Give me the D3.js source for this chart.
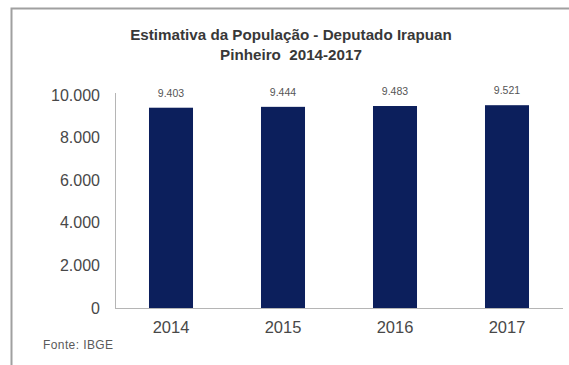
<!DOCTYPE html>
<html>
<head>
<meta charset="utf-8">
<script src="https://cdn.jsdelivr.net/npm/d3@7"></script>
<style>
  html, body { margin: 0; padding: 0; background: #fff; }
  svg { display: block; font-family: "Liberation Sans", Arial, sans-serif; }
</style>
</head>
<body>
<svg id="chart" width="569" height="365"></svg>
<script>
// Estimated population by year
const years = ["2014", "2015", "2016", "2017"];
const population = [9403, 9444, 9483, 9521];
const yTicks = [0, 2000, 4000, 6000, 8000, 10000];
const titleLines = ["Estimativa da População - Deputado Irapuan", "Pinheiro  2014-2017"];
const sourceNote = "Fonte: IBGE";

const svg = d3.select("#chart");
const W = 569, H = 365;
const plot = { left: 115, right: 563, top: 95, bottom: 308 };

const fmt = d3.formatLocale({ decimal: ",", thousands: ".", grouping: [3], currency: ["R$", ""] }).format(",d");

// Frame
svg.append("path")
  .attr("d", `M11.5,${H} L11.5,8.5 L${W},8.5`)
  .attr("fill", "none")
  .attr("stroke", "#a0a0a0")
  .attr("stroke-width", 2);

// Title
svg.append("g").selectAll("text").data(titleLines).join("text")
  .attr("x", 291)
  .attr("y", (d, i) => 40 + i * 20)
  .attr("text-anchor", "middle")
  .attr("font-size", 15.2)
  .attr("font-weight", "bold")
  .attr("fill", "#383838")
  .style("white-space", "pre")
  .text(d => d);

const x = d3.scaleBand().domain(years).range([plot.left, plot.right]).paddingInner(0.607).paddingOuter(0.3035);
const y = d3.scaleLinear().domain([0, 10000]).range([plot.bottom, plot.top]);

// Y axis
const yAxis = svg.append("g")
  .attr("transform", `translate(${plot.left},0)`)
  .call(d3.axisLeft(y).tickValues(yTicks).tickFormat(fmt).tickSize(0).tickPadding(15));
yAxis.select(".domain").attr("stroke", "#b5b5b5").attr("d", `M0.5,${plot.top - 2}V${plot.bottom}`);
yAxis.selectAll("text")
  .attr("font-size", 16)
  .attr("fill", "#484848")
  .attr("font-family", "Liberation Sans, Arial, sans-serif");

// X axis
const xAxis = svg.append("g")
  .attr("transform", `translate(0,${plot.bottom})`)
  .call(d3.axisBottom(x).tickSize(0).tickPadding(13));
xAxis.select(".domain").attr("stroke", "#b5b5b5").attr("d", `M${plot.left},0.5H${plot.right}`);
xAxis.selectAll("text")
  .attr("font-size", 16.5)
  .attr("fill", "#484848")
  .attr("font-family", "Liberation Sans, Arial, sans-serif");

// Bars
svg.append("g").selectAll("rect").data(years).join("rect")
  .attr("x", d => x(d))
  .attr("width", x.bandwidth())
  .attr("y", (d, i) => y(population[i]))
  .attr("height", (d, i) => y(0) - y(population[i]))
  .attr("fill", "#0c1f5c");

// Value labels
svg.append("g").selectAll("text").data(years).join("text")
  .attr("x", d => x(d) + x.bandwidth() / 2)
  .attr("y", (d, i) => y(population[i]) - 11)
  .attr("text-anchor", "middle")
  .attr("font-size", 10.5)
  .attr("fill", "#555")
  .text((d, i) => fmt(population[i]));

// Source note
svg.append("text")
  .attr("x", 43)
  .attr("y", 349)
  .attr("font-size", 12)
  .attr("letter-spacing", 0.4)
  .attr("fill", "#5a5a5a")
  .text(sourceNote);
</script>
</body>
</html>
